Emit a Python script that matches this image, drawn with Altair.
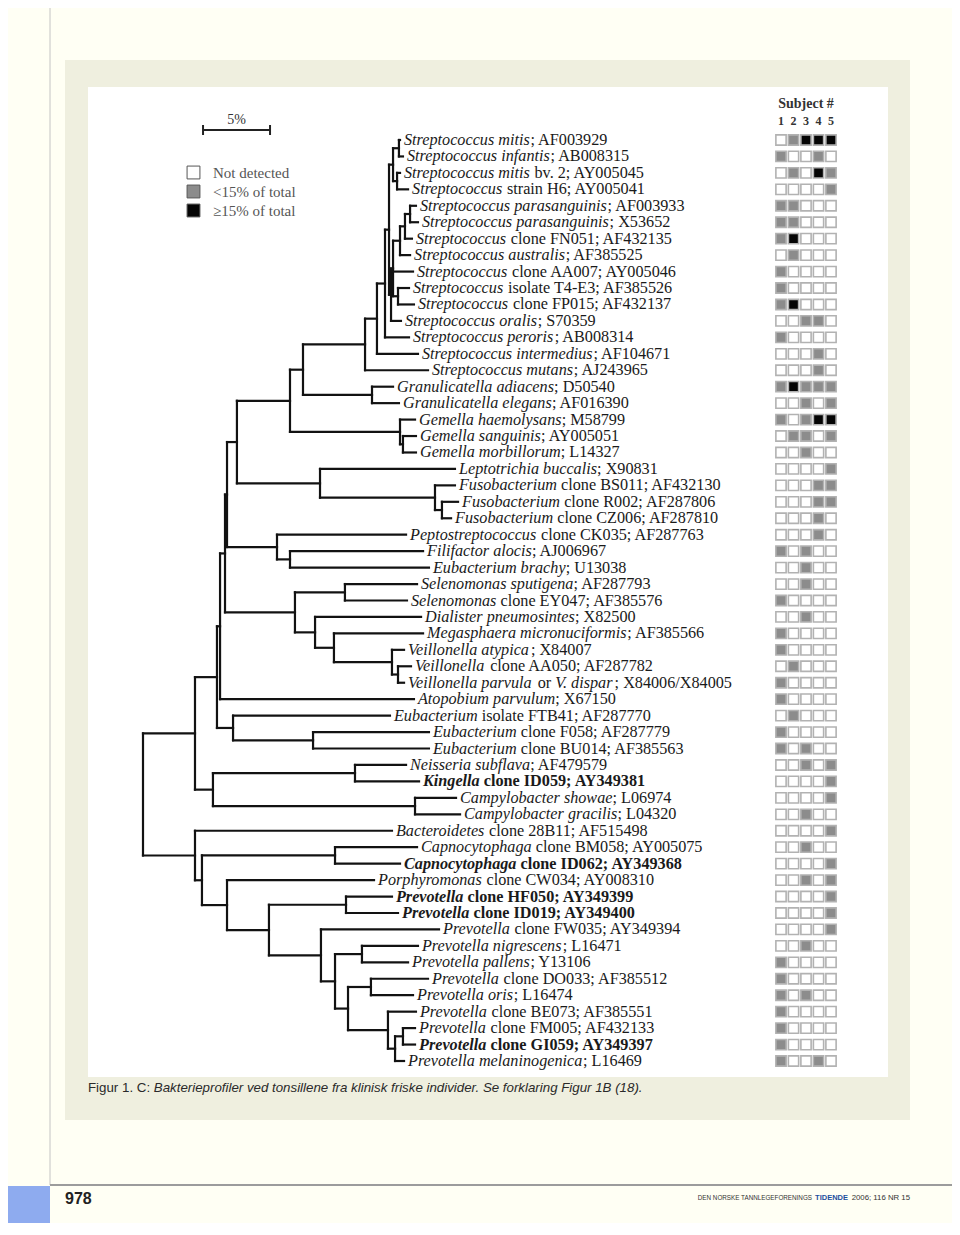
import altair as alt
import pandas as pd

# ------------------------------------------------------------------ data
labels = [
    "*Streptococcus mitis*; AF003929",
    "*Streptococcus infantis*; AB008315",
    "*Streptococcus mitis* bv. 2; AY005045",
    "*Streptococcus* strain H6; AY005041",
    "*Streptococcus parasanguinis*; AF003933",
    "*Streptococcus parasanguinis*; X53652",
    "*Streptococcus* clone FN051; AF432135",
    "*Streptococcus australis*; AF385525",
    "*Streptococcus* clone AA007; AY005046",
    "*Streptococcus* isolate T4-E3; AF385526",
    "*Streptococcus* clone FP015; AF432137",
    "*Streptococcus oralis*; S70359",
    "*Streptococcus peroris*; AB008314",
    "*Streptococcus intermedius*; AF104671",
    "*Streptococcus mutans*; AJ243965",
    "*Granulicatella adiacens*; D50540",
    "*Granulicatella elegans*; AF016390",
    "*Gemella haemolysans*; M58799",
    "*Gemella sanguinis*; AY005051",
    "*Gemella morbillorum*; L14327",
    "*Leptotrichia buccalis*; X90831",
    "*Fusobacterium* clone BS011; AF432130",
    "*Fusobacterium* clone R002; AF287806",
    "*Fusobacterium* clone CZ006; AF287810",
    "*Peptostreptococcus* clone CK035; AF287763",
    "*Filifactor alocis*; AJ006967",
    "*Eubacterium brachy*; U13038",
    "*Selenomonas sputigena*; AF287793",
    "*Selenomonas* clone EY047; AF385576",
    "*Dialister pneumosintes*; X82500",
    "*Megasphaera micronuciformis*; AF385566",
    "*Veillonella atypica*; X84007",
    "*Veillonella* clone AA050; AF287782",
    "*Veillonella parvula* or *V. dispar*; X84006/X84005",
    "*Atopobium parvulum*; X67150",
    "*Eubacterium* isolate FTB41; AF287770",
    "*Eubacterium* clone F058; AF287779",
    "*Eubacterium* clone BU014; AF385563",
    "*Neisseria subflava*; AF479579",
    "*Kingella* clone ID059; AY349381",
    "*Campylobacter showae*; L06974",
    "*Campylobacter gracilis*; L04320",
    "*Bacteroidetes* clone 28B11; AF515498",
    "*Capnocytophaga* clone BM058; AY005075",
    "*Capnocytophaga* clone ID062; AY349368",
    "*Porphyromonas* clone CW034; AY008310",
    "*Prevotella* clone HF050; AY349399",
    "*Prevotella* clone ID019; AY349400",
    "*Prevotella* clone FW035; AY349394",
    "*Prevotella nigrescens*; L16471",
    "*Prevotella pallens*; Y13106",
    "*Prevotella* clone DO033; AF385512",
    "*Prevotella oris*; L16474",
    "*Prevotella* clone BE073; AF385551",
    "*Prevotella* clone FM005; AF432133",
    "*Prevotella* clone GI059; AY349397",
    "*Prevotella melaninogenica*; L16469",
]
bold_rows = [40, 45, 47, 48, 56]

# tip distance from the root (% sequence divergence)
leaf_depth = [
    19.18, 19.40, 19.18, 19.78, 20.37, 20.52, 20.07, 19.93, 20.15, 19.85,
    20.22, 19.25, 19.85, 20.52, 21.27, 18.66, 19.10, 20.30, 20.37, 20.37,
    23.28, 23.28, 23.51, 22.99, 19.63, 20.90, 21.34, 20.45, 19.70, 20.75,
    20.90, 19.48, 20.00, 19.48, 20.22, 18.43, 21.34, 21.34, 19.63, 20.60,
    23.36, 23.66, 18.58, 20.45, 19.18, 17.24, 18.58, 19.03, 22.09, 20.52,
    19.78, 21.27, 20.15, 20.37, 20.30, 20.30, 19.48,
]

# internal nodes: (name, distance from root in %, children top-to-bottom)
internal_nodes = [
    ("root", 0.00, ["V5", "Bac"]),
    ("V5", 3.88, ["V4", "NK"]),
    ("V4", 5.52, ["V3", "Eub"]),
    ("V3", 5.75, ["V2", "L35"]),
    ("V2", 6.12, ["V1", "Sel"]),
    ("V1", 6.27, ["N237", "Pep"]),
    ("N237", 7.01, ["N290", "LF"]),
    ("N290", 10.97, ["N303", "Gem"]),
    ("N303", 11.94, ["N365", "Gran"]),
    ("N365", 16.57, ["N377", "L15"]),
    ("N377", 17.46, ["N385", "L14"]),
    ("N385", 18.06, ["N389", "L13"]),
    ("N389", 18.36, ["Nab", "P4"]),
    ("Nab", 18.66, ["Na", "Nb"]),
    ("Na", 19.10, ["L1", "L2"]),
    ("Nb", 18.96, ["L3", "L4"]),
    ("P4", 18.51, ["P3", "L12"]),
    ("P3", 18.66, ["P2", "L9", "N1011"]),
    ("P2", 19.18, ["P1", "L8"]),
    ("P1", 19.55, ["N56", "L7"]),
    ("N56", 19.93, ["L5", "L6"]),
    ("N1011", 19.03, ["L10", "L11"]),
    ("Gran", 17.09, ["L16", "L17"]),
    ("Gem", 19.18, ["L18", "Gem2"]),
    ("Gem2", 19.40, ["L19", "L20"]),
    ("LF", 13.21, ["L21", "Fuso"]),
    ("Fuso", 21.79, ["L22", "Fuso2"]),
    ("Fuso2", 22.31, ["L23", "L24"]),
    ("Pep", 10.00, ["L25", "Pep2"]),
    ("Pep2", 10.97, ["L26", "L27"]),
    ("Sel", 11.34, ["Sel2", "Dia"]),
    ("Sel2", 15.07, ["L28", "L29"]),
    ("Dia", 12.84, ["L30", "Meg"]),
    ("Meg", 14.25, ["L31", "Vei"]),
    ("Vei", 18.58, ["L32", "Vei2"]),
    ("Vei2", 19.03, ["L33", "L34"]),
    ("Eub", 6.72, ["L36", "Eub2"]),
    ("Eub2", 12.69, ["L37", "L38"]),
    ("NK", 5.22, ["NeKi", "Campy"]),
    ("NeKi", 15.82, ["L39", "L40"]),
    ("Campy", 20.30, ["L41", "L42"]),
    ("Bac", 3.88, ["L43", "B202"]),
    ("B202", 4.40, ["Capno", "B227"]),
    ("Capno", 14.33, ["L44", "L45"]),
    ("B227", 6.27, ["L46", "B269"]),
    ("B269", 9.40, ["B346", "B321"]),
    ("B346", 15.15, ["L47", "L48"]),
    ("B321", 13.28, ["L49", "B335"]),
    ("B335", 14.33, ["B362", "B348"]),
    ("B362", 16.34, ["L50", "L51"]),
    ("B348", 15.30, ["B371", "B388"]),
    ("B371", 17.01, ["L52", "L53"]),
    ("B388", 18.28, ["L54", "B395"]),
    ("B395", 18.81, ["B403", "L57"]),
    ("B403", 19.40, ["L55", "L56"]),
]

# detection per subject: 0 = not detected, 1 = <15 %, 2 = >=15 %
subject_1 = [0, 1, 0, 0, 1, 1, 1, 0, 1, 1, 1, 0, 1, 0, 0, 1, 0, 1, 0, 0,
             0, 0, 0, 0, 0, 1, 0, 0, 1, 0, 1, 1, 0, 1, 1, 0, 1, 1, 0, 0,
             0, 0, 0, 0, 0, 0, 0, 0, 0, 0, 1, 1, 1, 1, 1, 1, 1]
subject_2 = [1, 0, 1, 0, 1, 1, 2, 1, 0, 0, 2, 0, 0, 0, 0, 2, 0, 0, 1, 0,
             0, 0, 0, 0, 0, 0, 0, 0, 0, 0, 0, 0, 1, 0, 0, 1, 0, 0, 0, 0,
             0, 0, 0, 0, 0, 0, 0, 0, 0, 0, 0, 0, 0, 0, 0, 0, 0]
subject_3 = [2, 0, 0, 0, 0, 0, 0, 0, 0, 0, 0, 1, 0, 0, 0, 1, 1, 1, 1, 1,
             0, 0, 0, 0, 0, 1, 1, 1, 0, 1, 0, 0, 0, 0, 0, 0, 0, 1, 1, 0,
             0, 1, 0, 1, 0, 1, 0, 0, 0, 1, 0, 0, 1, 0, 0, 0, 0]
subject_4 = [2, 1, 2, 0, 0, 0, 0, 0, 0, 0, 0, 1, 0, 1, 1, 1, 0, 2, 0, 0,
             0, 1, 1, 1, 1, 0, 0, 0, 0, 0, 0, 0, 0, 0, 0, 0, 0, 0, 0, 0,
             0, 0, 0, 0, 0, 0, 0, 0, 0, 0, 0, 0, 0, 0, 0, 0, 1]
subject_5 = [2, 0, 1, 1, 0, 0, 0, 0, 0, 0, 0, 0, 0, 0, 0, 1, 1, 2, 1, 0,
             1, 1, 1, 0, 0, 0, 0, 0, 0, 0, 0, 0, 0, 0, 0, 0, 0, 0, 1, 1,
             1, 0, 1, 0, 1, 1, 1, 1, 1, 0, 0, 0, 0, 0, 0, 0, 0]
subjects = [1, 2, 3, 4, 5]
status_names = ["Not detected", "<15% of total", "\u226515% of total"]

scale_bar_start = 4.48   # % on the tree axis
scale_bar_len = 5.0      # "5%"

caption_a = "Figur 1. C:"
caption_b = "Bakterieprofiler ved tonsillene fra klinisk friske individer. Se forklaring Figur 1B (18)."
footer_a = "DEN NORSKE TANNLEGEFORENINGS"
footer_b = "TIDENDE"
footer_c = "2006; 116 NR 15"
page_no = "978"

# ------------------------------------------------------------------ styles
status_colors = ["#ffffff", "#8c8c8c", "#050505"]
PX_PER_PCT = 13.4
X0 = 135.0
FS = 16.2
GAP = 4.0
SERIF = "Liberation Serif, Times New Roman, serif"
SANS = "Liberation Sans, Arial, sans-serif"
CAP_FS = 13.3

lower = "abcdefghijklmnopqrstuvwxyz"
upper = "ABCDEFGHIJKLMNOPQRSTUVWXYZ"
_m = {
    "r": ([444, 500, 444, 500, 444, 333, 500, 500, 278, 278, 500, 278, 778, 500, 500, 500, 500, 333, 389, 278, 500, 500, 722, 500, 500, 444],
          [722, 667, 667, 722, 611, 556, 722, 722, 333, 389, 722, 611, 889, 722, 722, 556, 722, 667, 556, 611, 722, 722, 944, 722, 722, 611], 278),
    "i": ([500, 500, 444, 500, 444, 278, 500, 500, 278, 278, 444, 278, 722, 500, 500, 500, 500, 389, 389, 278, 500, 444, 667, 444, 444, 389],
          [611, 611, 667, 722, 611, 611, 722, 722, 333, 444, 667, 556, 833, 667, 722, 611, 722, 611, 500, 556, 722, 611, 833, 611, 556, 556], 333),
    "b": ([500, 556, 444, 556, 444, 333, 500, 556, 278, 333, 556, 278, 833, 556, 500, 556, 556, 444, 389, 333, 556, 500, 722, 500, 500, 444],
          [722, 667, 722, 722, 667, 611, 778, 778, 389, 500, 778, 667, 944, 722, 778, 611, 778, 722, 556, 667, 722, 722, 1000, 722, 722, 667], 333),
    "bi": ([500, 500, 444, 500, 444, 333, 500, 556, 278, 278, 500, 278, 778, 556, 500, 500, 500, 389, 389, 278, 556, 444, 667, 500, 444, 389],
           [667, 667, 667, 722, 667, 667, 722, 778, 389, 500, 667, 611, 889, 722, 722, 611, 722, 667, 556, 611, 722, 667, 889, 667, 611, 611], 333),
    "sans": ([556, 556, 500, 556, 556, 278, 556, 556, 222, 222, 500, 222, 833, 556, 556, 556, 556, 333, 500, 278, 556, 500, 722, 500, 500, 500],
             [667, 667, 722, 722, 667, 611, 778, 722, 278, 500, 667, 556, 833, 722, 778, 667, 778, 722, 667, 611, 722, 667, 944, 667, 667, 611], 278),
}
METRICS = {}
for k, (lo, up, semi) in _m.items():
    t = dict(zip(lower, lo))
    t.update(dict(zip(upper, up)))
    digit = 556 if k == "sans" else 500
    t.update({c: digit for c in "0123456789"})
    t.update({" ": 250 if k != "sans" else 278, ".": 250 if k != "sans" else 278,
              ",": 250, ";": semi, ":": 278, "-": 333, "/": 278, "(": 333, ")": 333})
    METRICS[k] = t


def text_width(s, style, size=FS):
    return sum(METRICS[style].get(c, 500) for c in s) * size / 1000.0


# ------------------------------------------------------------------ tree geometry
depth = {f"L{i + 1}": d for i, d in enumerate(leaf_depth)}
ypos = {f"L{i + 1}": float(i + 1) for i in range(len(labels))}
kids = {}
for name, d, ch in internal_nodes:
    depth[name] = d
    kids[name] = ch


def y_of(n):
    if n not in ypos:
        c = kids[n]
        ypos[n] = (y_of(c[0]) + y_of(c[-1])) / 2.0
    return ypos[n]


y_of("root")
segs = []
for name, d, ch in internal_nodes:
    segs.append(dict(x=d, x2=d, y=ypos[ch[0]], y2=ypos[ch[-1]]))
    for c in ch:
        segs.append(dict(x=d, x2=depth[c], y=ypos[c], y2=ypos[c]))
seg_df = pd.DataFrame(segs)

# label pieces (italic names, upright accession numbers)
pieces = []
for r, lab in enumerate(labels, start=1):
    bold = r in bold_rows
    off = 0.0
    for k, part in enumerate(lab.split("*")):
        if not part:
            continue
        italic = k % 2 == 1
        style = ("bi" if italic else "b") if bold else ("i" if italic else "r")
        lead = len(part) - len(part.lstrip(" "))
        off += lead * text_width(" ", style)
        body = part.lstrip(" ")
        pieces.append(dict(row=r, lx=leaf_depth[r - 1] + (GAP + off) / PX_PER_PCT,
                           text=body, style=style))
        off += text_width(body, style)
piece_df = pd.DataFrame(pieces)

heat = []
for s, col in zip(subjects, [subject_1, subject_2, subject_3, subject_4, subject_5]):
    for r, v in enumerate(col, start=1):
        heat.append(dict(subject=s, row=r, status=status_names[v]))
heat_df = pd.DataFrame(heat)
subj_df = pd.DataFrame({"subject": subjects, "lab": [str(s) for s in subjects]})

# ------------------------------------------------------------------ scales
xscale = alt.Scale(domain=[0, 25], range=[X0, X0 + 25 * PX_PER_PCT])
yscale = alt.Scale(domain=[1, 57], range=[132, 1053])
sscale = alt.Scale(domain=[1, 5], range=[773, 823])
one = alt.Data(values=[{}])


def rect(x, x2, y, y2, color):
    return alt.Chart(one).mark_rect(color=color).encode(
        x=alt.value(x), x2=alt.value(x2), y=alt.value(y), y2=alt.value(y2))


def line(x, x2, y, y2, color, w):
    return alt.Chart(one).mark_rule(color=color, strokeWidth=w).encode(
        x=alt.value(x), x2=alt.value(x2), y=alt.value(y), y2=alt.value(y2))


def label(txt, x, y, size, font, color="#333333", weight="normal", style="normal", align="left"):
    return alt.Chart(one).mark_text(
        text=txt, align=align, baseline="middle", font=font, fontSize=size,
        fontWeight=weight, fontStyle=style, color=color).encode(
        x=alt.value(x), y=alt.value(y))


cap_b_x = 80 + text_width(caption_a + " ", "sans", CAP_FS)

page = [
    rect(57, 902, 52, 1112, "#efefdf"),
    rect(80, 880, 79, 1069, "#ffffff"),
    line(42, 42, 0, 1177, "#c4c4c4", 1),
    line(42, 944, 1177, 1177, "#9c9c9c", 2),
    rect(0, 42, 1178, 1215, "#8eabef"),
    label(page_no, 57, 1191, 16, SANS, "#222222", "bold"),
    label(footer_c, 902, 1190, 7.8, SANS, "#333333", align="right"),
    label(footer_b, 840, 1190, 7.5, SANS, "#1d4f9e", "bold", align="right"),
    label(footer_a, 804, 1190, 6.3, SANS, "#333333", align="right"),
    label(caption_a, 80, 1080, CAP_FS, SANS, "#2a2a2a"),
    label(caption_b, cap_b_x, 1080, CAP_FS, SANS, "#2a2a2a", style="italic"),
    label("Subject #", 798, 96, 14, SERIF, "#333333", "bold", align="center"),
]

tree = alt.Chart(seg_df).mark_rule(color="#121212", strokeWidth=2.2, strokeCap="square").encode(
    x=alt.X("x:Q", scale=xscale, axis=None), x2="x2:Q",
    y=alt.Y("y:Q", scale=yscale, axis=None), y2="y2:Q")

text_layers = []
for st, fw, fst in [("r", "normal", "normal"), ("i", "normal", "italic"),
                    ("b", "bold", "normal"), ("bi", "bold", "italic")]:
    sub = piece_df[piece_df["style"] == st]
    text_layers.append(
        alt.Chart(sub).mark_text(align="left", baseline="middle", font=SERIF, fontSize=FS,
                                 fontWeight=fw, fontStyle=fst, color="#1a1a1a").encode(
            x=alt.X("lx:Q", scale=xscale, axis=None),
            y=alt.Y("row:Q", scale=yscale, axis=None),
            text="text:N"))

bar_df = pd.DataFrame({"a": [scale_bar_start], "b": [scale_bar_start + scale_bar_len],
                       "m": [scale_bar_start + scale_bar_len / 2], "t": ["5%"]})
bar = alt.Chart(bar_df).mark_rule(color="#222222", strokeWidth=2).encode(
    x=alt.X("a:Q", scale=xscale, axis=None), x2="b:Q", y=alt.value(122))
cap_a = alt.Chart(bar_df).mark_rule(color="#222222", strokeWidth=2).encode(
    x=alt.X("a:Q", scale=xscale, axis=None), y=alt.value(117), y2=alt.value(127))
cap_b = alt.Chart(bar_df).mark_rule(color="#222222", strokeWidth=2).encode(
    x=alt.X("b:Q", scale=xscale, axis=None), y=alt.value(117), y2=alt.value(127))
bar_txt = alt.Chart(bar_df).mark_text(font=SERIF, fontSize=14, color="#333333", baseline="middle").encode(
    x=alt.X("m:Q", scale=xscale, axis=None), y=alt.value(112), text="t:N")

heatmap = alt.Chart(heat_df).mark_square(size=105, stroke="#b2b2b2", strokeWidth=1.6, opacity=1).encode(
    x=alt.X("subject:Q", scale=sscale, axis=None),
    y=alt.Y("row:Q", scale=yscale, axis=None),
    color=alt.Color("status:N", scale=alt.Scale(domain=status_names, range=status_colors),
                    legend=alt.Legend(orient="none", legendX=178, legendY=157, title=None,
                                      direction="vertical", symbolType="square", symbolSize=165,
                                      symbolStrokeColor="#555555", symbolStrokeWidth=1,
                                      labelFont=SERIF, labelFontSize=15, labelColor="#555555",
                                      labelOffset=12, rowPadding=2, padding=0)))
subj_txt = alt.Chart(subj_df).mark_text(font=SERIF, fontSize=12, fontWeight="bold",
                                        color="#333333", baseline="middle").encode(
    x=alt.X("subject:Q", scale=sscale, axis=None), y=alt.value(113), text="lab:N")

chart = alt.layer(*page, tree, *text_layers, bar, cap_a, cap_b, bar_txt, heatmap, subj_txt).resolve_scale(
    x="independent").properties(
    width=944, height=1215, background="#fffff4", padding=0,
    autosize=alt.AutoSizeParams(type="none")).configure_view(stroke=None)

chart.save("out.html", embed_options={"renderer": "svg", "actions": False})
